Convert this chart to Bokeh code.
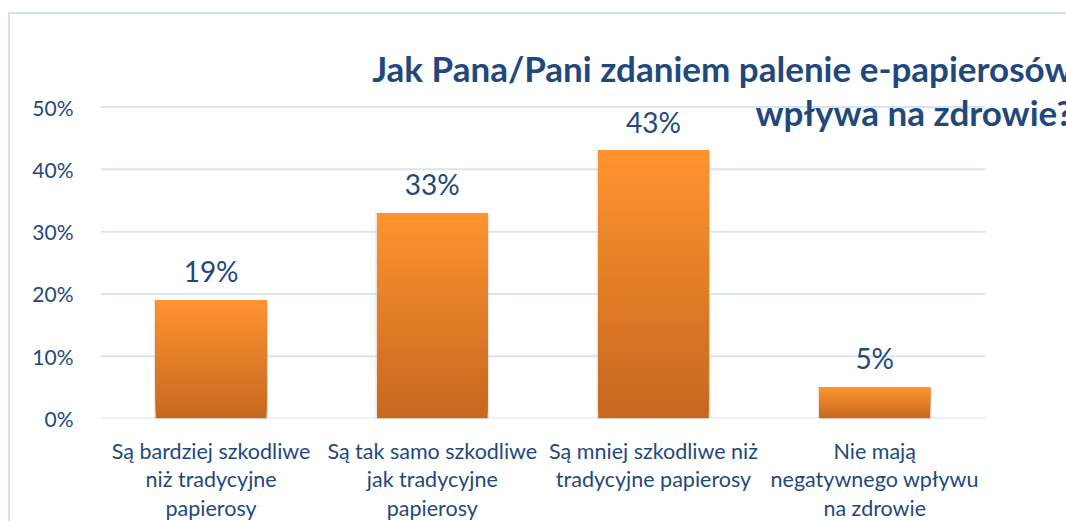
from bokeh.plotting import figure
from bokeh.models import (Range1d, FixedTicker, NumeralTickFormatter,
                          ColumnDataSource, Label)
from bokeh.core.properties import value
from bokeh.embed import file_html
from bokeh.resources import INLINE

# ---- data ----
categories = [
    "Są bardziej szkodliwe\nniż tradycyjne\npapierosy",
    "Są tak samo szkodliwe\njak tradycyjne\npapierosy",
    "Są mniej szkodliwe niż\ntradycyjne papierosy",
    "Nie mają\nnegatywnego wpływu\nna zdrowie",
]
values = [0.19, 0.33, 0.43, 0.05]
y_ticks = [0.0, 0.1, 0.2, 0.3, 0.4, 0.5]
title_lines = ["Jak Pana/Pani zdaniem palenie e-papierosów", "wpływa na zdrowie?"]

# ---- style ----
FONT = "Lato"
BLUE = "#1F497D"
GRID = "#DAE4F1"
TOP_C = (254, 147, 47)
BOT_C = (199, 104, 31)
N_SLICES = 40

idx = list(range(len(categories)))

p = figure(
    width=1058, height=509,
    x_range=Range1d(-0.5, 3.876),
    y_range=Range1d(0, 0.6486),
    output_backend="svg", toolbar_location=None,
    min_border_left=90, min_border_right=0,
    min_border_top=0, min_border_bottom=101,
)
p.title.visible = False
p.styles = {
    "margin-left": "8px",
    "margin-top": "12px",
    "border-left": "2px solid #D6E0EE",
    "border-top": "2px solid #D6E0EE",
}
p.outline_line_color = None
p.background_fill_color = "white"
p.border_fill_color = "white"

# gridlines (only across the category area)
p.xgrid.grid_line_color = None
p.ygrid.grid_line_color = None
p.segment(x0=[-0.5] * len(y_ticks), x1=[len(categories) - 0.5] * len(y_ticks),
          y0=y_ticks, y1=y_ticks, line_color=GRID, line_width=2)

# y axis
p.yaxis.ticker = FixedTicker(ticks=y_ticks)
p.yaxis.formatter = NumeralTickFormatter(format="0%")
p.yaxis.axis_line_color = None
p.yaxis.major_tick_line_color = None
p.yaxis.minor_tick_line_color = None
p.yaxis.major_label_standoff = 21
p.yaxis.major_label_text_font = FONT
p.yaxis.major_label_text_font_size = "21px"
p.yaxis.major_label_text_color = BLUE

# x axis
p.xaxis.ticker = FixedTicker(ticks=idx)
p.xaxis.major_label_overrides = {i: c for i, c in zip(idx, categories)}
p.xaxis.axis_line_color = None
p.xaxis.major_tick_line_color = None
p.xaxis.minor_tick_line_color = None
p.xaxis.major_tick_out = 0
p.xaxis.major_label_standoff = 19
p.xaxis.major_label_text_font = FONT
p.xaxis.major_label_text_font_size = "21.5px"
p.xaxis.major_label_text_line_height = 1.1
p.xaxis.major_label_text_color = BLUE
p.xaxis.major_label_text_align = "center"

# soft shadow behind bars
p.vbar(x=idx, top=values, bottom=0, width=0.515,
       fill_color="#C8C8C8", fill_alpha=0.45, line_color=None)

# gradient bars: nested slices, each reaching the bar top
xs, bots, tops, cols = [], [], [], []
for i, v in zip(idx, values):
    for k in range(N_SLICES):
        t = k / (N_SLICES - 1)
        r = round(BOT_C[0] + (TOP_C[0] - BOT_C[0]) * t)
        g = round(BOT_C[1] + (TOP_C[1] - BOT_C[1]) * t)
        b = round(BOT_C[2] + (TOP_C[2] - BOT_C[2]) * t)
        xs.append(i)
        bots.append(v * k / N_SLICES)
        tops.append(v)
        cols.append("#%02x%02x%02x" % (r, g, b))
src = ColumnDataSource(dict(x=xs, bottom=bots, top=tops, color=cols))
p.vbar(x="x", bottom="bottom", top="top", width=0.5, fill_color="color",
       line_color=None, source=src)

# data labels
lbl = ColumnDataSource(dict(x=idx, y=values,
                            t=[f"{round(v * 100)}%" for v in values]))
p.text(x="x", y="y", text="t", source=lbl, text_align="center",
       text_baseline="alphabetic", y_offset=-29,
       text_font=value(FONT), text_font_size="28px", text_color=BLUE)

# title (right-aligned, running off the right edge)
for y, line in zip([0.5623, 0.492], title_lines):
    p.add_layout(Label(x=3.894, y=y, text=line,
                       text_align="right", text_baseline="alphabetic",
                       text_font=FONT, text_font_size="35px",
                       text_font_style="bold", text_color=BLUE))

open("out.html", "w").write(file_html(p, INLINE))
